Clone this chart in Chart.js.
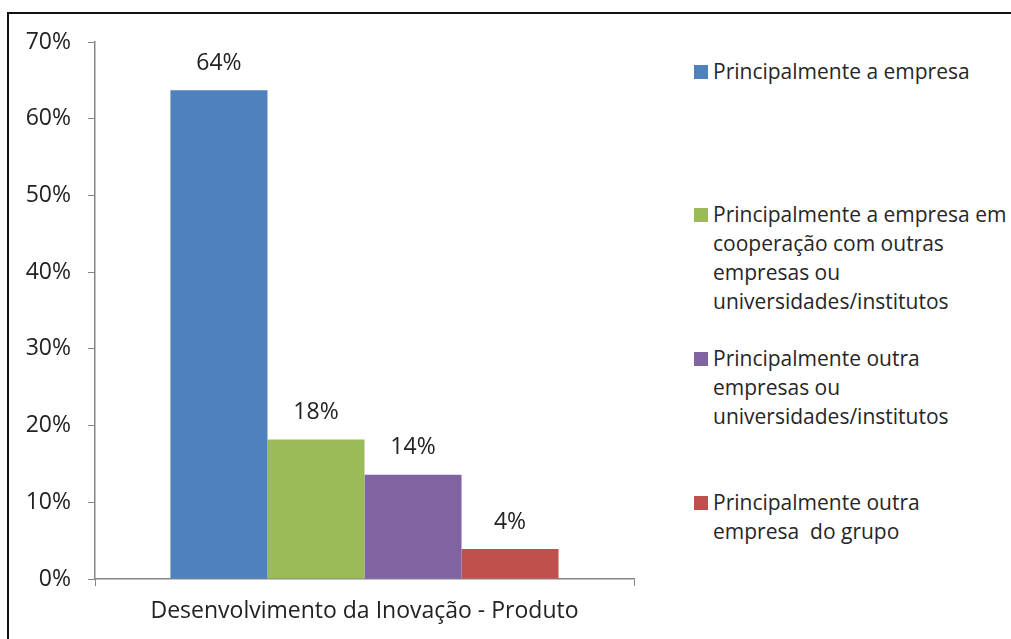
<!DOCTYPE html>
<html>
<head>
<meta charset="utf-8">
<script src="https://cdn.jsdelivr.net/npm/chart.js@4/dist/chart.umd.min.js"></script>
<style>
  html, body { margin: 0; padding: 0; background: #fff; }
  body { width: 1011px; height: 639px; position: relative; overflow: hidden; font-family: "Open Sans", sans-serif; }
  #frame { position: absolute; left: 7px; top: 12px; width: 1100px; height: 700px; border: 2px solid #111; }
  #wrap { position: absolute; left: 0; top: 0; width: 660px; height: 639px; }
  #legend { position: absolute; left: 694px; top: 0; width: 320px; }
  .item { position: absolute; left: 0; color: #262626; font-size: 21px; line-height: 29px; white-space: nowrap; }
  .box { position: absolute; left: 0; top: 8px; width: 14px; height: 14px; }
  .txt { position: absolute; left: 19px; top: 0; }
</style>
</head>
<body>
<div id="frame"></div>
<div id="wrap"><canvas id="chart"></canvas></div>
<div id="legend"></div>
<script>
// Categories, series and tick labels
const CATEGORIES = ['Desenvolvimento da Inovação - Produto'];
const SERIES_NAMES = [
    ['Principalmente a empresa'],
    ['Principalmente a empresa em', 'cooperação com outras', 'empresas ou', 'universidades/institutos'],
    ['Principalmente outra', 'empresas ou', 'universidades/institutos'],
    ['Principalmente outra', 'empresa  do grupo']
];
const SERIES_VALUES = [63.7, 18.2, 13.6, 3.9];
const SERIES_LABELS = ['64%', '18%', '14%', '4%'];
const COLORS = ['#4F81BD', '#9BBB59', '#8064A2', '#C0504D'];
const LEGEND_TOPS = [57, 200, 344, 488];
const Y_MAX = 70;

// Labels above bars
const barLabels = {
    id: 'barLabels',
    afterDatasetsDraw(chart) {
        const ctx = chart.ctx;
        ctx.save();
        ctx.font = '23px "Open Sans", sans-serif';
        ctx.fillStyle = '#222';
        ctx.textAlign = 'center';
        ctx.textBaseline = 'middle';
        chart.data.datasets.forEach((ds, i) => {
            const bar = chart.getDatasetMeta(i).data[0];
            ctx.fillText(SERIES_LABELS[i], bar.x, bar.y - 27);
        });
        ctx.restore();
    }
};

new Chart(document.getElementById('chart'), {
    type: 'bar',
    data: {
        labels: CATEGORIES,
        datasets: SERIES_VALUES.map((v, i) => ({
            label: SERIES_NAMES[i].join(' '),
            data: [v],
            backgroundColor: COLORS[i],
            borderWidth: 0,
            categoryPercentage: 0.72,
            barPercentage: 1.0
        }))
    },
    options: {
        responsive: true,
        maintainAspectRatio: false,
        animation: false,
        layout: { padding: { left: 0, top: 42, right: 26, bottom: 0 } },
        plugins: {
            legend: { display: false },
            tooltip: { enabled: false }
        },
        scales: {
            x: {
                offset: true,
                grid: {
                    offset: true,
                    drawOnChartArea: false,
                    tickLength: 7,
                    color: '#868686'
                },
                border: { color: '#868686', width: 1.5 },
                ticks: {
                    color: '#222',
                    padding: 12,
                    font: { family: '"Open Sans", sans-serif', size: 23 }
                },
                afterFit: s => { s.height = 60; }
            },
            y: {
                min: 0,
                max: Y_MAX,
                ticks: {
                    stepSize: 10,
                    color: '#222',
                    padding: 17,
                    font: { family: '"Open Sans", sans-serif', size: 23 },
                    callback: v => v + '%'
                },
                grid: {
                    drawOnChartArea: false,
                    tickLength: 7,
                    color: '#868686'
                },
                border: { color: '#868686', width: 1.5 },
                afterFit: s => { s.width = 95; }
            }
        }
    },
    plugins: [barLabels]
});

// Legend on the right
const legend = document.getElementById('legend');
SERIES_NAMES.forEach((lines, i) => {
    const item = document.createElement('div');
    item.className = 'item';
    item.style.top = LEGEND_TOPS[i] + 'px';
    item.innerHTML = '<div class="box" style="background:' + COLORS[i] + '"></div>' +
        '<div class="txt">' + lines.map(l => l.replace(/ /g, '&nbsp;')).join('<br>') + '</div>';
    legend.appendChild(item);
});
</script>
</body>
</html>
